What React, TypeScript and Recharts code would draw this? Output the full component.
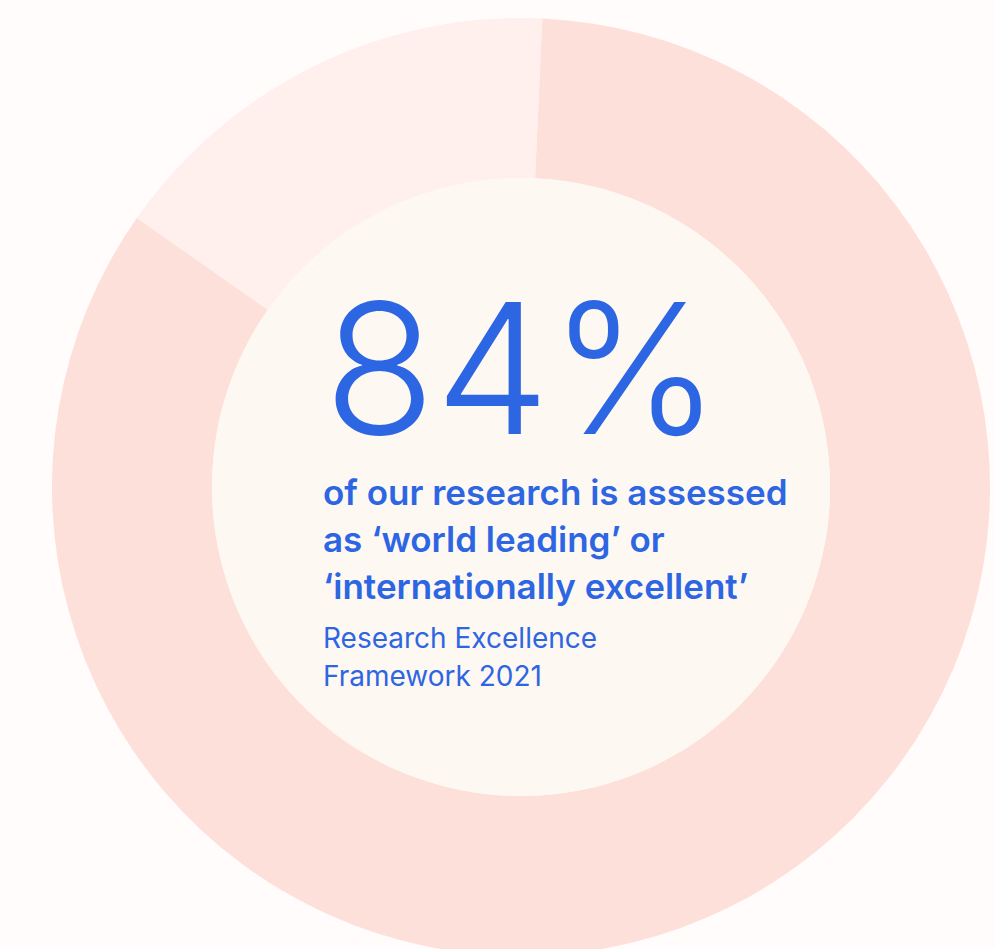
import React from 'react';
import { PieChart, Pie, Cell } from 'recharts';

const shares = [
  { name: 'World leading or internationally excellent', value: 84 },
  { name: 'Other', value: 16 },
];
const shareColors = ['#fee0da', '#ffefed'];
const centre = [{ name: 'centre', value: 1 }];

const headline = '84%';
const statementLines = ['of our research is assessed', 'as \u2018world leading\u2019 or', '\u2018internationally excellent\u2019'];
const sourceLines = ['Research Excellence', 'Framework 2021'];

const blue = '#2d66e3';

const App = () => {
  return (
    <div style={{ position: 'absolute', left: 0, top: 0, width: 995, height: 949, background: '#fffcfb', overflow: 'hidden', fontFamily: 'Inter, sans-serif' }}>
      <PieChart width={995} height={949} margin={{ top: 0, right: 0, bottom: 0, left: 0 }}>
        <Pie
          data={shares}
          dataKey="value"
          cx={521}
          cy={487}
          innerRadius={309}
          outerRadius={469}
          startAngle={87.4}
          endAngle={-272.6}
          stroke="none"
          isAnimationActive={false}
        >
          {shares.map((s, i) => (
            <Cell key={s.name} fill={shareColors[i]} />
          ))}
        </Pie>
        <Pie
          data={centre}
          dataKey="value"
          cx={521}
          cy={487}
          innerRadius={0}
          outerRadius={309}
          fill="#fef8f3"
          stroke="none"
          isAnimationActive={false}
        />
      </PieChart>

      <div style={{ position: 'absolute', left: 324, top: 277, color: blue, fontSize: 182, fontWeight: 300, lineHeight: '182px', letterSpacing: 0 }}>
        {headline}
      </div>
      <div style={{ position: 'absolute', left: 323, top: 469, color: blue, fontSize: 35, fontWeight: 600, lineHeight: '47px' }}>
        {statementLines.map((l) => (
          <div key={l}>{l}</div>
        ))}
      </div>
      <div style={{ position: 'absolute', left: 323, top: 619, color: blue, fontSize: 28, fontWeight: 400, lineHeight: '38px' }}>
        {sourceLines.map((l) => (
          <div key={l}>{l}</div>
        ))}
      </div>
    </div>
  );
};

export default App;
